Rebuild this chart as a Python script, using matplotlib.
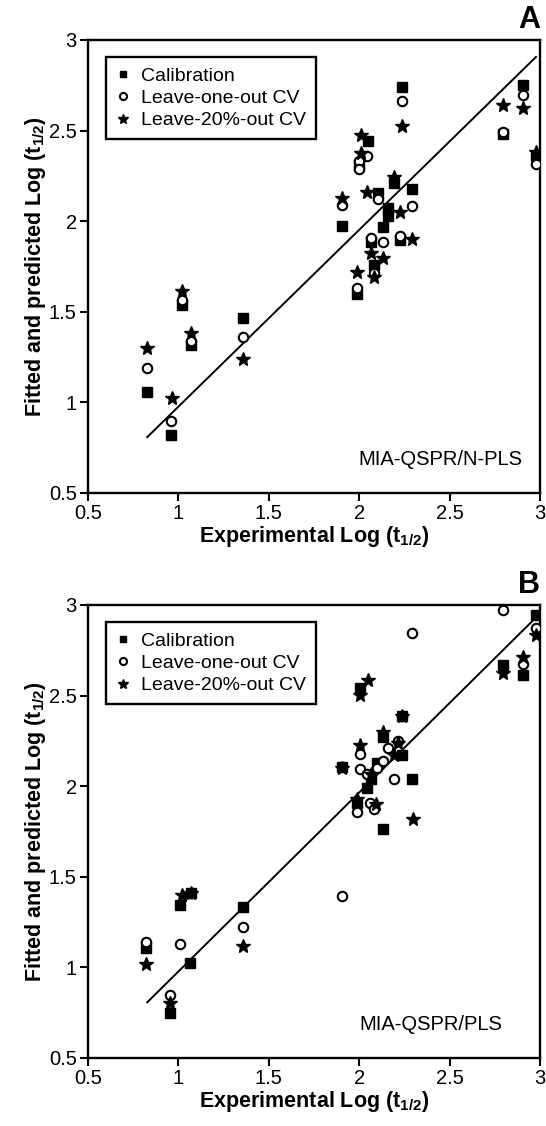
import matplotlib
matplotlib.use("Agg")
import matplotlib.pyplot as plt
import numpy as np

plt.rcParams['font.family'] = ['Liberation Sans', 'DejaVu Sans']
plt.rcParams['mathtext.fontset'] = 'custom'
plt.rcParams['mathtext.bf'] = 'Liberation Sans:bold'
plt.rcParams['mathtext.rm'] = 'Liberation Sans:bold'

# ---- Panel A: MIA-QSPR/N-PLS ----
a_cal_x = [0.828, 0.957, 1.018, 1.068, 1.356, 1.907, 1.986, 2.000, 2.050, 2.068, 2.083,
           2.106, 2.133, 2.157, 2.157, 2.190, 2.226, 2.238, 2.294, 2.797, 2.908, 2.980]
a_cal_y = [1.059, 0.820, 1.538, 1.317, 1.464, 1.975, 1.600, 2.310, 2.444, 1.885, 1.758,
           2.154, 1.966, 2.070, 2.030, 2.213, 1.895, 2.742, 2.180, 2.480, 2.752, 2.360]
a_loo_x = [0.828, 0.957, 1.018, 1.068, 1.357, 1.907, 1.986, 2.000, 2.000, 2.045, 2.068,
           2.083, 2.106, 2.133, 2.226, 2.238, 2.294, 2.797, 2.908, 2.980]
a_loo_y = [1.188, 0.897, 1.565, 1.340, 1.362, 2.089, 1.630, 2.330, 2.290, 2.360, 1.905,
           1.716, 2.121, 1.887, 1.920, 2.663, 2.084, 2.490, 2.696, 2.316]
a_l20_x = [0.828, 0.966, 1.018, 1.068, 1.359, 1.907, 1.986, 2.008, 2.008, 2.041, 2.065,
           2.083, 2.133, 2.190, 2.226, 2.238, 2.294, 2.797, 2.908, 2.980]
a_l20_y = [1.298, 1.026, 1.615, 1.381, 1.238, 2.126, 1.721, 2.476, 2.375, 2.163, 1.823,
           1.690, 1.795, 2.246, 2.053, 2.527, 1.902, 2.640, 2.623, 2.384]
a_fit = (0.976, 0.0)

# ---- Panel B: MIA-QSPR/PLS ----
b_cal_x = [0.824, 0.954, 1.009, 1.064, 1.068, 1.356, 1.907, 1.986, 2.005, 2.045, 2.068,
           2.100, 2.133, 2.133, 2.235, 2.235, 2.294, 2.797, 2.908, 2.978]
b_cal_y = [1.105, 0.747, 1.344, 1.023, 1.410, 1.335, 2.108, 1.906, 2.540, 1.992, 2.040,
           2.126, 2.273, 1.764, 2.172, 2.390, 2.038, 2.669, 2.614, 2.945]
b_loo_x = [0.824, 0.954, 1.009, 1.068, 1.356, 1.907, 1.986, 2.005, 2.005, 2.041, 2.060,
           2.083, 2.100, 2.133, 2.157, 2.194, 2.217, 2.235, 2.294, 2.797, 2.908, 2.978]
b_loo_y = [1.142, 0.848, 1.129, 1.410, 1.225, 1.396, 1.860, 2.180, 2.095, 2.066, 1.906,
           1.873, 2.100, 2.139, 2.209, 2.038, 2.251, 2.390, 2.844, 2.972, 2.674, 2.871]
b_l20_x = [0.824, 0.954, 1.018, 1.068, 1.356, 1.907, 1.986, 2.005, 2.005, 2.050, 2.068,
           2.093, 2.133, 2.190, 2.217, 2.235, 2.300, 2.797, 2.908, 2.978]
b_l20_y = [1.019, 0.805, 1.400, 1.410, 1.120, 2.100, 1.928, 2.503, 2.227, 2.586, 2.070,
           1.902, 2.300, 2.172, 2.240, 2.390, 1.819, 2.623, 2.711, 2.834]
b_fit = (0.988, -0.011)

fit_range = [0.828, 2.978]
ticks = [0.5, 1, 1.5, 2, 2.5, 3]
tick_labels = ['0.5', '1', '1.5', '2', '2.5', '3']


def draw_panel(ax, cal, loo, l20, fit, letter, method, method_x, method_ha):
    ax.plot(*cal, linestyle='', marker='s', markersize=6.5, color='black',
            label='Calibration', zorder=3)
    ax.plot(*loo, linestyle='', marker='o', markersize=6.8, markerfacecolor='white',
            markeredgecolor='black', markeredgewidth=1.5, label='Leave-one-out CV', zorder=4)
    ax.plot(*l20, linestyle='', marker='*', markersize=10, color='black',
            label='Leave-20%-out CV', zorder=5)

    # fitted line
    xs = np.array(fit_range)
    ax.plot(xs, fit[0] * xs + fit[1], color='black', linewidth=1.4, zorder=2)

    ax.set_xlim(0.5, 3)
    ax.set_ylim(0.5, 3)
    ax.set_xticks(ticks)
    ax.set_xticklabels(tick_labels)
    ax.set_yticks(ticks)
    ax.set_yticklabels(tick_labels)
    ax.tick_params(direction='out', length=6, width=1.5, labelsize=14.5, pad=2)
    for s in ax.spines.values():
        s.set_linewidth(1.7)

    ax.set_xlabel(r'Experimental Log (t$_{1/2}$)', fontsize=15.5, fontweight='bold', labelpad=1)
    ax.set_ylabel(r'Fitted and predicted Log (t$_{1/2}$)', fontsize=15.5, fontweight='bold',
                  labelpad=1)

    leg = ax.legend(loc='upper left', bbox_to_anchor=(0.04, 0.962), fontsize=14,
                    fancybox=False, framealpha=1, edgecolor='black', markerscale=0.75,
                    handlelength=0.8, handletextpad=0.5, labelspacing=0.25,
                    borderpad=0.5, borderaxespad=0)
    leg.get_frame().set_linewidth(1.7)

    ax.text(1.0, 1.01, letter, transform=ax.transAxes, ha='right', va='bottom',
            fontsize=22, fontweight='bold')
    ax.text(method_x, 0.062, method, transform=ax.transAxes, ha=method_ha,
            va='baseline', fontsize=14.5)


fig = plt.figure(figsize=(5.46, 11.26), dpi=100)
ax_a = fig.add_axes([0.161, 0.5622, 0.828, 0.4023])
ax_b = fig.add_axes([0.161, 0.0604, 0.828, 0.4023])

draw_panel(ax_a, (a_cal_x, a_cal_y), (a_loo_x, a_loo_y), (a_l20_x, a_l20_y), a_fit,
           'A', 'MIA-QSPR/N-PLS', 0.96, 'right')
draw_panel(ax_b, (b_cal_x, b_cal_y), (b_loo_x, b_loo_y), (b_l20_x, b_l20_y), b_fit,
           'B', 'MIA-QSPR/PLS', 0.60, 'left')

fig.savefig('out.png', dpi=100)
